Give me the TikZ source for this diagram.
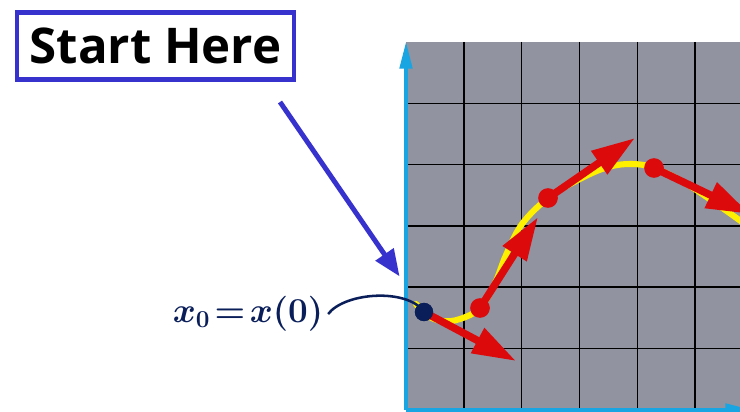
\documentclass[tikz,border=0pt]{standalone}
\usepackage{fontspec}
\newfontfamily\labelfont{Open Sans}
\usetikzlibrary{arrows.meta,calc}

\definecolor{startblue}{RGB}{55,50,205}
\definecolor{axisblue}{RGB}{25,165,225}
\definecolor{gridgray}{RGB}{145,147,160}
\definecolor{vecred}{RGB}{220,10,10}
\definecolor{pathyellow}{RGB}{255,240,0}
\definecolor{inknavy}{RGB}{10,30,90}

\begin{document}
\begin{tikzpicture}[
      x=0.025cm, y=-0.025cm,
      startbox/.style={draw=startblue, line width=3.5pt, fill=white, minimum width=197pt, minimum height=47.5pt, font=\labelfont\bfseries\fontsize{35}{38}\selectfont},
      pointer/.style={draw=startblue, line width=3.5pt, -{Triangle[length=19pt, width=15pt]}},
      axis/.style={draw=axisblue, line width=2.2pt, -{Triangle[length=19pt, width=9pt]}},
      gridline/.style={draw=black, line width=1pt},
      dot/.style={circle, fill=vecred, inner sep=0pt, minimum size=14pt},
      vec/.style={draw=vecred, line width=5.3pt, -{Triangle[length=31pt, width=19pt]}},
      ink/.style={draw=inknavy, line width=1.8pt},
      blob/.style={circle, fill=inknavy, inner sep=0pt, minimum size=13pt}
    ]
    \useasboundingbox (0,0) rectangle (740,412);

    % grid
    \fill[gridgray] (406,42) rectangle (745,410);
    \foreach \i in {1,...,5}
      \draw[gridline] (406+57.8*\i,42) -- (406+57.8*\i,410);
    \foreach \j in {1,...,5}
      \draw[gridline] (406,42+61.3*\j) -- (745,42+61.3*\j);

    \coordinate (origin) at (406,410);
    \coordinate (ytop) at (406,42);
    \coordinate (xend) at (752,410);
    \draw[axis] (origin) -- (ytop);
    \draw[axis] (origin) -- (xend);

    % trajectory
    \draw[pathyellow, line width=4.3pt, line cap=round] plot[smooth, tension=0.6] coordinates {
      (416,304) (426,315) (442,321) (460,319) (480,308) (495,283) (506,255)
      (522,224) (548,198) (576,181) (605,168) (630,164) (654,168) (690,186) (742,222)};

    \node[blob] (x0) at (424,312) {};
    \node[dot] (p1) at (480,308) {};
    \node[dot] (p2) at (548,198) {};
    \node[dot] (p3) at (654,168) {};

    \coordinate (v0) at (516,361);
    \coordinate (v1) at (538,217);
    \coordinate (v2) at (635,138);
    \coordinate (v3) at (750,214);

    \draw[vec] (x0.center) -- (v0);
    \draw[vec] (p1.center) -- (v1);
    \draw[vec] (p2.center) -- (v2);
    \draw[vec] (p3.center) -- (v3);
    \node[blob] at (x0) {};

    % labels
    \node[startbox] (start) at (155.5,46) {Start Here};
    \coordinate (tail) at (280,102);
    \draw[pointer, shorten >=24pt] (tail) -- (x0);

    \node[text=inknavy, font=\boldmath\fontsize{27}{30}\selectfont] (xlabel) at (248,314) {$x_0\!=\!x(0)$};
    \draw[ink] (xlabel.east) .. controls (345,292) and (408,288) .. (x0.center);
  \end{tikzpicture}
\end{document}
